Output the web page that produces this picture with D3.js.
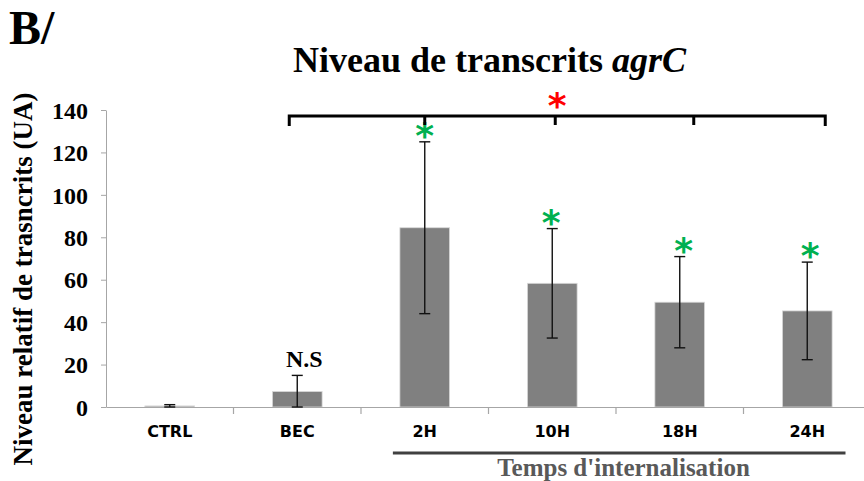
<!DOCTYPE html>
<html><head><meta charset="utf-8">
<script src="https://cdn.jsdelivr.net/npm/d3@7"></script>
<style>body{margin:0;background:#fff}svg{display:block}</style>
</head><body>
<script>
const categories = ["CTRL","BEC","2H","10H","18H","24H"];
const means = [0.5, 7.3, 84.5, 58.3, 49.4, 45.3];
const errors = [0.6, 7.6, 40.5, 25.8, 21.5, 23.0];
const yTicks = [0,20,40,60,80,100,120,140];
const greenStars = ["2H","10H","18H","24H"];
const bracketCats = ["BEC","2H","10H","18H","24H"];

const W=864,H=481;
const svg=d3.select("body").append("svg").attr("width",W).attr("height",H);
const x=d3.scaleBand().domain(categories).range([106,871]).padding(0);
const y=d3.scaleLinear().domain([0,140]).range([407,110]);
const serif="'Liberation Serif','Times New Roman',serif";
const axisCol="#a6a6a6";

// y axis
const ya=svg.append("g").attr("transform","translate(106,0)")
  .call(d3.axisLeft(y).tickValues(yTicks).tickSize(5).tickSizeOuter(0));
ya.select(".domain").attr("stroke",axisCol);
ya.selectAll(".tick line").attr("stroke",axisCol);
ya.selectAll(".tick text").attr("font-family",serif).attr("font-weight","bold")
  .attr("font-size",24).attr("fill","#000").attr("x",-18).attr("dy","0.34em");

// bars
const bw=x.bandwidth()*0.39;
const cx=d=>x(d)+x.bandwidth()/2;
svg.selectAll("rect.bar").data(categories).join("rect").attr("class","bar")
  .attr("x",d=>cx(d)-bw/2).attr("width",bw)
  .attr("y",(d,i)=>y(means[i])).attr("height",(d,i)=>y(0)-y(means[i]))
  .attr("fill","#808080").attr("stroke","#d9d9d9").attr("stroke-width",0.8);

// x axis
const xa=svg.append("g").attr("transform","translate(0,407)")
  .call(d3.axisBottom(x).tickSize(0).tickSizeOuter(0));
xa.select(".domain").attr("stroke",axisCol).attr("stroke-width",1.2);
xa.selectAll(".tick text").attr("font-family","'DejaVu Sans',sans-serif").attr("font-weight","bold")
  .attr("font-size",16).attr("fill","#000").attr("dy","1.71em");
// band boundary ticks
svg.append("g").selectAll("line").data(categories.slice(1)).join("line")
  .attr("x1",d=>x(d)).attr("x2",d=>x(d)).attr("y1",407).attr("y2",414)
  .attr("stroke",axisCol).attr("stroke-width",1.2);

// error bars
const eb=svg.append("g").attr("stroke","#111").attr("stroke-width",1.4);
categories.forEach((c,i)=>{
  const lo=Math.max(0,means[i]-errors[i]), hi=means[i]+errors[i];
  eb.append("line").attr("x1",cx(c)).attr("x2",cx(c)).attr("y1",y(lo)).attr("y2",y(hi));
  eb.append("line").attr("x1",cx(c)-5.5).attr("x2",cx(c)+5.5).attr("y1",y(hi)).attr("y2",y(hi));
  eb.append("line").attr("x1",cx(c)-5.5).attr("x2",cx(c)+5.5).attr("y1",y(lo)).attr("y2",y(lo));
});

// green stars
const starOff={"2H":0,"10H":-1,"18H":4,"24H":3};
greenStars.forEach(c=>{
  const i=categories.indexOf(c);
  svg.append("text").attr("x",cx(c)+starOff[c]).attr("y",y(means[i]+errors[i])-2)
    .attr("text-anchor","middle").attr("font-family","'DejaVu Sans',sans-serif").attr("font-weight","bold")
    .attr("font-size",36).attr("fill","#00b050").attr("dy","0.62em").text("*")
    .attr("transform",`translate(0,-14)`);
});

// bracket
const bOff=[-8,0,3,14,18];
const bx=bracketCats.map((c,i)=>cx(c)+bOff[i]);
const by=y(140)+6;
const br=svg.append("g").attr("stroke","#000").attr("stroke-width",3).attr("fill","none");
br.append("path").attr("d",`M${bx[0]},${by+10}V${by}H${bx[4]}V${by+10}`).attr("stroke-linejoin","miter");
bx.slice(1,4).forEach(v=>br.append("line").attr("x1",v).attr("x2",v).attr("y1",by).attr("y2",by+9));
svg.append("text").attr("x",(bx[0]+bx[4])/2).attr("y",by-5)
  .attr("text-anchor","middle").attr("font-family","'DejaVu Sans',sans-serif").attr("font-weight","bold")
  .attr("font-size",36).attr("fill","#ff0000").attr("dy","0.62em").attr("transform","translate(0,-15)").text("*");

// N.S
svg.append("text").attr("x",cx("BEC")+7).attr("y",367)
  .attr("text-anchor","middle").attr("font-family",serif).attr("font-weight","bold")
  .attr("font-size",24).text("N.S");

// title
const t=svg.append("text").attr("x",489.5).attr("y",72).attr("text-anchor","middle")
  .attr("font-family",serif).attr("font-weight","bold").attr("font-size",36);
t.append("tspan").text("Niveau de transcrits ");
t.append("tspan").attr("font-style","italic").text("agrC");

svg.append("text").attr("x",9).attr("y",44).attr("font-family",serif).attr("font-weight","bold")
  .attr("font-size",48).text("B/");

// y label
svg.append("text").attr("transform","translate(32,279) rotate(-90)").attr("text-anchor","middle")
  .attr("font-family",serif).attr("font-weight","bold").attr("font-size",27).text("Niveau relatif de trasncrits (UA)");

// group line
svg.append("line").attr("x1",x("2H")+x.bandwidth()*0.25).attr("x2",x("24H")+x.bandwidth()*0.8)
  .attr("y1",453).attr("y2",453).attr("stroke","#404040").attr("stroke-width",3);
svg.append("text").attr("x",623.5).attr("y",476).attr("text-anchor","middle")
  .attr("font-family",serif).attr("font-weight","bold").attr("font-size",25).attr("fill","#595959")
  .text("Temps d'internalisation");
</script>
</body></html>
